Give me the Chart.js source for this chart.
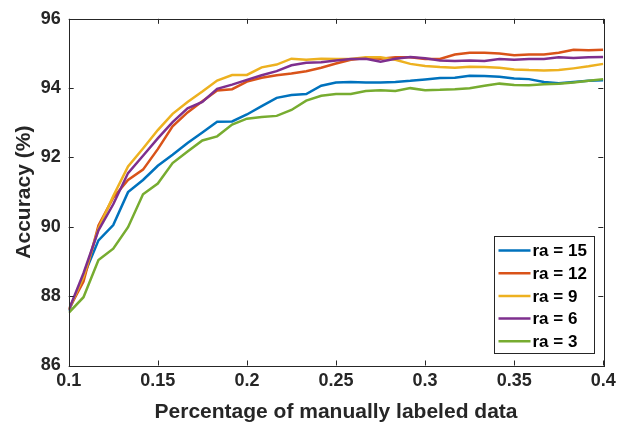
<!DOCTYPE html>
<html>
<head>
<meta charset="utf-8">
<script src="https://cdn.jsdelivr.net/npm/chart.js@4.4.1/dist/chart.umd.min.js"></script>
<style>
  html, body { margin: 0; padding: 0; background: #ffffff; }
  #wrap { width: 628px; height: 431px; }
</style>
</head>
<body>
<div id="wrap"><canvas id="c" width="628" height="431"></canvas></div>
<script>
// Fraction of manually labeled data at each evaluation step
const labeledFraction = [
  0.1000, 0.1083, 0.1167, 0.1250, 0.1333, 0.1417, 0.1500, 0.1583, 0.1667, 0.1750,
  0.1833, 0.1917, 0.2000, 0.2083, 0.2167, 0.2250, 0.2333, 0.2417, 0.2500, 0.2583,
  0.2667, 0.2750, 0.2833, 0.2917, 0.3000, 0.3083, 0.3167, 0.3250, 0.3333, 0.3417,
  0.3500, 0.3583, 0.3667, 0.3750, 0.3833, 0.3917, 0.4000
];

// Accuracy (%) for each ra setting
const accRa15 = [
  87.57, 88.57, 89.61, 90.05, 91.00, 91.35, 91.76, 92.08, 92.42, 92.72,
  93.03, 93.04, 93.24, 93.48, 93.72, 93.80, 93.83, 94.07, 94.16, 94.18,
  94.16, 94.16, 94.18, 94.21, 94.25, 94.29, 94.30, 94.36, 94.35, 94.33,
  94.28, 94.26, 94.18, 94.14, 94.18, 94.21, 94.23
];
const accRa12 = [
  87.62, 88.42, 90.04, 90.84, 91.35, 91.65, 92.24, 92.90, 93.30, 93.62,
  93.93, 93.97, 94.19, 94.30, 94.37, 94.42, 94.49, 94.59, 94.71, 94.82,
  94.87, 94.85, 94.89, 94.89, 94.84, 94.84, 94.97, 95.02, 95.02, 95.00,
  94.95, 94.97, 94.97, 95.02, 95.11, 95.09, 95.11
];
const accRa9 = [
  87.60, 88.55, 89.95, 90.89, 91.74, 92.26, 92.79, 93.26, 93.60, 93.90,
  94.22, 94.38, 94.38, 94.60, 94.68, 94.85, 94.82, 94.85, 94.84, 94.84,
  94.89, 94.89, 94.82, 94.70, 94.64, 94.61, 94.59, 94.62, 94.61, 94.59,
  94.54, 94.52, 94.51, 94.52, 94.57, 94.63, 94.70
];
const accRa6 = [
  87.60, 88.66, 89.90, 90.65, 91.55, 92.05, 92.55, 93.02, 93.42, 93.60,
  93.98, 94.10, 94.24, 94.37, 94.49, 94.66, 94.73, 94.75, 94.80, 94.84,
  94.85, 94.76, 94.85, 94.90, 94.86, 94.80, 94.78, 94.80, 94.78, 94.84,
  94.82, 94.84, 94.84, 94.89, 94.87, 94.89, 94.90
];
const accRa3 = [
  87.52, 87.97, 89.04, 89.37, 89.99, 90.94, 91.25, 91.84, 92.17, 92.49,
  92.61, 92.95, 93.12, 93.17, 93.20, 93.37, 93.64, 93.78, 93.83, 93.83,
  93.92, 93.94, 93.92, 94.00, 93.94, 93.95, 93.97, 94.00, 94.07, 94.13,
  94.09, 94.08, 94.11, 94.13, 94.16, 94.21, 94.26
];

const seriesNames  = ['ra = 15', 'ra = 12', 'ra = 9', 'ra = 6', 'ra = 3'];
const seriesValues = [accRa15, accRa12, accRa9, accRa6, accRa3];
const seriesColors = ['#0072BD', '#D95319', '#EDB120', '#7E2F8E', '#77AC30'];

const xTickValues = [0.1, 0.15, 0.2, 0.25, 0.3, 0.35, 0.4];
const xTickLabels = ['0.1', '0.15', '0.2', '0.25', '0.3', '0.35', '0.4'];
const yTickValues = [86, 88, 90, 92, 94, 96];
const yTickLabels = ['86', '88', '90', '92', '94', '96'];

const xTitle = 'Percentage of manually labeled data';
const yTitle = 'Accuracy (%)';

const AXIS_COLOR = '#262626';
const FONT_FAMILY = '"Liberation Sans", Arial, Helvetica, sans-serif';

// Full box around the plot with inward tick marks on all four sides
const boxAxesPlugin = {
  id: 'boxAxes',
  afterDatasetsDraw(chart) {
    const { ctx, chartArea: a, scales } = chart;
    const tl = 5;
    ctx.save();
    ctx.strokeStyle = AXIS_COLOR;
    ctx.lineWidth = 1;
    ctx.beginPath();
    xTickValues.forEach(v => {
      const px = Math.round(scales.x.getPixelForValue(v)) + 0.5;
      ctx.moveTo(px, a.bottom); ctx.lineTo(px, a.bottom - tl);
      ctx.moveTo(px, a.top);    ctx.lineTo(px, a.top + tl);
    });
    yTickValues.forEach(v => {
      const py = Math.round(scales.y.getPixelForValue(v)) + 0.5;
      ctx.moveTo(a.left, py);  ctx.lineTo(a.left + tl, py);
      ctx.moveTo(a.right, py); ctx.lineTo(a.right - tl, py);
    });
    ctx.stroke();
    ctx.strokeRect(Math.round(a.left) + 0.5, Math.round(a.top) + 0.5,
                   Math.round(a.right - a.left), Math.round(a.bottom - a.top));
    ctx.restore();
  }
};

// Legend box inside the lower right of the plot
const insideLegendPlugin = {
  id: 'insideLegend',
  afterDraw(chart) {
    const { ctx, chartArea: a } = chart;
    const boxW = 100, boxH = 117;
    const bx = Math.round(a.right - 9 - boxW) + 0.5;
    const by = Math.round(a.bottom - 13 - boxH) + 0.5;
    ctx.save();
    ctx.fillStyle = '#ffffff';
    ctx.fillRect(bx, by, boxW, boxH);
    ctx.strokeStyle = AXIS_COLOR;
    ctx.lineWidth = 1;
    ctx.strokeRect(bx, by, boxW, boxH);
    ctx.font = 'bold 17px ' + FONT_FAMILY;
    ctx.textBaseline = 'middle';
    ctx.textAlign = 'left';
    chart.data.datasets.forEach((ds, i) => {
      const rowY = by + 14 + i * 22.7;
      ctx.strokeStyle = ds.borderColor;
      ctx.lineWidth = 2.5;
      ctx.beginPath();
      ctx.moveTo(bx + 4, rowY);
      ctx.lineTo(bx + 36, rowY);
      ctx.stroke();
      ctx.fillStyle = '#000000';
      ctx.fillText(ds.label, bx + 38, rowY + 1);
    });
    ctx.restore();
  }
};

const datasets = seriesNames.map((name, i) => ({
  label: name,
  data: labeledFraction.map((x, k) => ({ x: x, y: seriesValues[i][k] })),
  borderColor: seriesColors[i],
  backgroundColor: seriesColors[i],
  borderWidth: 2.5,
  pointRadius: 0,
  tension: 0,
  fill: false,
  order: seriesNames.length - i
}));

new Chart(document.getElementById('c'), {
  type: 'line',
  data: { datasets },
  options: {
    responsive: false,
    animation: false,
    devicePixelRatio: 1,
    layout: { padding: { top: 13.7, right: 24.7, left: 0, bottom: 0 } },
    plugins: {
      legend: { display: false },
      tooltip: { enabled: false }
    },
    scales: {
      x: {
        type: 'linear',
        min: 0.1,
        max: 0.4,
        afterBuildTicks: s => { s.ticks = xTickValues.map(v => ({ value: v })); },
        afterFit: s => { s.height = 65.5; },
        grid: { display: false, drawTicks: false },
        border: { display: false },
        ticks: {
          autoSkip: false,
          maxRotation: 0,
          padding: 5,
          color: AXIS_COLOR,
          font: { family: FONT_FAMILY, size: 18, weight: 'bold' },
          callback: (v, i) => xTickLabels[i]
        },
        title: {
          display: true,
          text: xTitle,
          color: AXIS_COLOR,
          font: { family: FONT_FAMILY, size: 21, weight: 'bold' },
          padding: { top: 0, bottom: 6 }
        }
      },
      y: {
        type: 'linear',
        min: 86,
        max: 96,
        afterBuildTicks: s => { s.ticks = yTickValues.map(v => ({ value: v })); },
        afterFit: s => { s.width = 68.7; },
        grid: { display: false, drawTicks: false },
        border: { display: false },
        ticks: {
          autoSkip: false,
          padding: 8,
          color: AXIS_COLOR,
          font: { family: FONT_FAMILY, size: 18, weight: 'bold' },
          callback: (v, i) => yTickLabels[i]
        },
        title: {
          display: true,
          text: yTitle,
          color: AXIS_COLOR,
          font: { family: FONT_FAMILY, size: 21, weight: 'bold' },
          padding: { top: 12, bottom: 0 }
        }
      }
    }
  },
  plugins: [boxAxesPlugin, insideLegendPlugin]
});
</script>
</body>
</html>
